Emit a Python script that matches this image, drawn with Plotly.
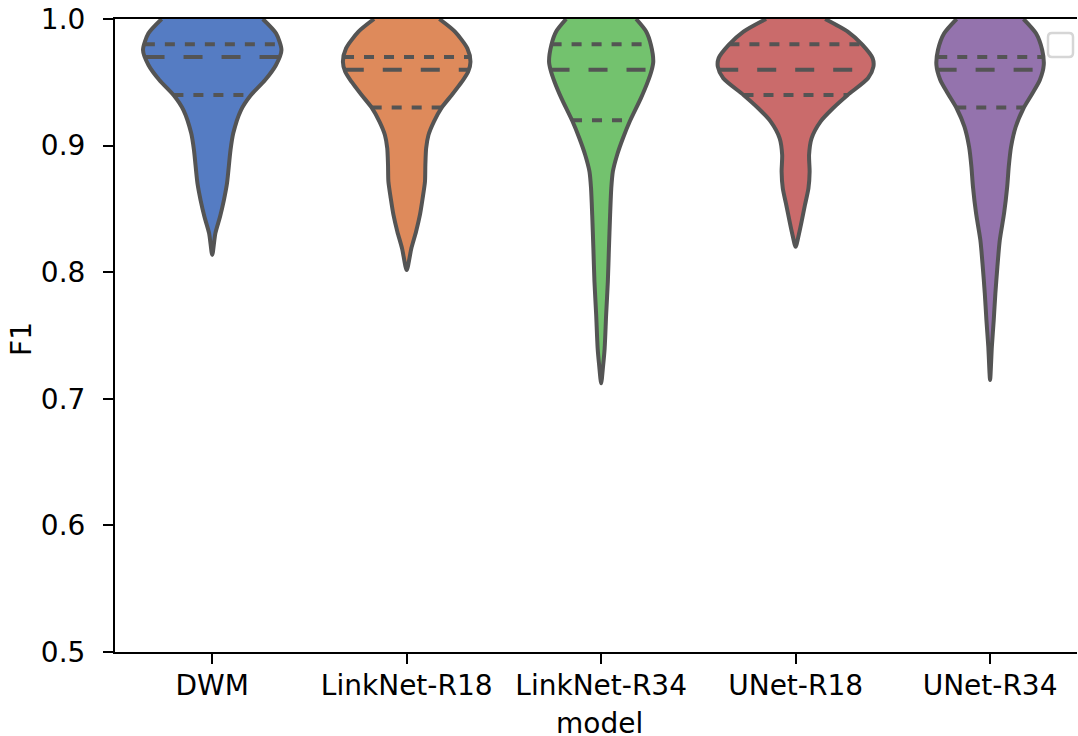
import numpy as np
import plotly.graph_objects as go

# ---------------- data ----------------
models = ["DWM", "LinkNet-R18", "LinkNet-R34", "UNet-R18", "UNet-R34"]

# F1 levels (top -> bottom) and relative KDE density (1.0 = widest violin)
dwm_f1 = [1.0, 0.9887, 0.9755, 0.9637, 0.9518, 0.9394, 0.9281, 0.9097, 0.8965, 0.8702, 0.857, 0.8438, 0.8307, 0.8136]
dwm_density = [0.65, 0.82, 0.89, 0.82, 0.68, 0.49, 0.37, 0.27, 0.235, 0.19, 0.15, 0.10, 0.04, 0.0]

lr18_f1 = [1.0, 0.990, 0.9768, 0.9663, 0.9584, 0.9505, 0.940, 0.930, 0.919, 0.9084, 0.8979, 0.8847, 0.8715, 0.8584, 0.8452, 0.832, 0.8189, 0.8017]
lr18_density = [0.42, 0.62, 0.78, 0.82, 0.79, 0.71, 0.58, 0.45, 0.35, 0.28, 0.25, 0.24, 0.235, 0.205, 0.17, 0.12, 0.06, 0.0]

lr34_f1 = [1.0, 0.990, 0.9795, 0.9663, 0.9597, 0.9505, 0.9373, 0.9194, 0.9058, 0.8926, 0.8794, 0.8663, 0.8452, 0.8189, 0.7925, 0.7662, 0.7399, 0.7267, 0.7122]
lr34_density = [0.45, 0.58, 0.64, 0.67, 0.65, 0.60, 0.51, 0.37, 0.28, 0.205, 0.15, 0.13, 0.115, 0.10, 0.086, 0.064, 0.045, 0.026, 0.0]

ur18_f1 = [1.0, 0.990, 0.9795, 0.969, 0.9623, 0.9532, 0.940, 0.9295, 0.919, 0.9058, 0.8926, 0.8794, 0.8663, 0.8531, 0.8399, 0.8294, 0.8201]
ur18_density = [0.38, 0.67, 0.86, 0.99, 1.0, 0.93, 0.67, 0.48, 0.32, 0.205, 0.173, 0.18, 0.165, 0.12, 0.077, 0.04, 0.0]

ur34_f1 = [1.0, 0.9887, 0.9755, 0.9637, 0.9518, 0.9413, 0.9295, 0.9149, 0.8991, 0.8833, 0.8675, 0.8465, 0.8254, 0.8043, 0.7833, 0.7622, 0.7412, 0.7149]
ur34_density = [0.43, 0.59, 0.67, 0.69, 0.64, 0.545, 0.43, 0.33, 0.27, 0.24, 0.22, 0.18, 0.125, 0.094, 0.068, 0.047, 0.023, 0.0]

# quartiles: Q1, median, Q3
dwm_quart = [0.94, 0.97, 0.98]
lr18_quart = [0.93, 0.96, 0.97]
lr34_quart = [0.92, 0.96, 0.98]
ur18_quart = [0.94, 0.96, 0.98]
ur34_quart = [0.93, 0.96, 0.97]

y_ticks = [0.5, 0.6, 0.7, 0.8, 0.9, 1.0]

# ---------------- style ----------------
colors = ["#557cc3", "#de8a5b", "#73c26e", "#ca6b6b", "#9473ad"]
edge = "#545454"
half_width = 0.4
font = "DejaVu Sans"

profiles = [
    (dwm_f1, dwm_density, dwm_quart),
    (lr18_f1, lr18_density, lr18_quart),
    (lr34_f1, lr34_density, lr34_quart),
    (ur18_f1, ur18_density, ur18_quart),
    (ur34_f1, ur34_density, ur34_quart),
]

fig = go.Figure()
for i, (f1, dens, quart) in enumerate(profiles):
    f1 = np.asarray(f1, float)
    d = np.asarray(dens, float) * half_width
    xs = np.concatenate([i - d, (i + d)[::-1][1:]])
    ys = np.concatenate([f1, f1[::-1][1:]])
    fig.add_trace(go.Scatter(
        x=xs, y=ys, mode="lines", fill="toself", fillcolor=colors[i],
        line=dict(color=edge, width=4, shape="spline", smoothing=0.7),
        hoverinfo="skip", showlegend=False))
    for k, q in enumerate(quart):
        w = np.interp(q, f1[::-1], d[::-1])
        dash = "19px,19px" if k == 1 else "10px,10px"
        fig.add_trace(go.Scatter(
            x=[i - w, i + w], y=[q, q], mode="lines",
            line=dict(color=edge, width=4, dash=dash),
            hoverinfo="skip", showlegend=False))

legend_path = ("M -25,-14 L -8,-14 Q -4,-14 -4,-18 L -4,-34 Q -4,-38 -8,-38 "
               "L -25,-38 Q -29,-38 -29,-34 L -29,-18 Q -29,-14 -25,-14 Z")

fig.update_layout(
    width=1078, height=736,
    margin=dict(l=115, r=1, t=19, b=84, autoexpand=False),
    paper_bgcolor="white", plot_bgcolor="white",
    font=dict(family=font, size=28, color="black"),
    showlegend=False,
    shapes=[dict(type="path", xref="paper", yref="paper",
                 xsizemode="pixel", ysizemode="pixel", xanchor=1, yanchor=1,
                 path=legend_path, line=dict(color="#d6d6d6", width=2.5),
                 fillcolor="white", layer="above")],
    annotations=[
        dict(text="model", xref="paper", yref="paper", x=0.504, y=-0.113,
             xanchor="center", yanchor="middle", showarrow=False,
             font=dict(size=28)),
        dict(text="F1", xref="paper", yref="paper", x=-0.0967, y=0.4945,
             xanchor="center", yanchor="middle", textangle=-90, showarrow=False,
             font=dict(size=28)),
    ],
)
fig.update_xaxes(
    range=[-0.5, 4.447], tickmode="array", tickvals=list(range(len(models))),
    ticktext=models, showline=True, linecolor="black", linewidth=2, mirror=True,
    ticks="outside", ticklen=10, tickwidth=2, tickcolor="black",
    showgrid=False, zeroline=False, automargin=False, ticklabelstandoff=-3,
)
fig.update_yaxes(
    range=[0.5, 1.0], tickmode="array", tickvals=y_ticks, tickformat=".1f",
    showline=True, linecolor="black", linewidth=2, mirror=False,
    ticks="outside", ticklen=10, tickwidth=2, tickcolor="black",
    showgrid=False, zeroline=False, automargin=False, ticklabelstandoff=12,
)

fig.write_html("out.html", config={"displayModeBar": False},
               post_script="document.body.style.margin='0';")
